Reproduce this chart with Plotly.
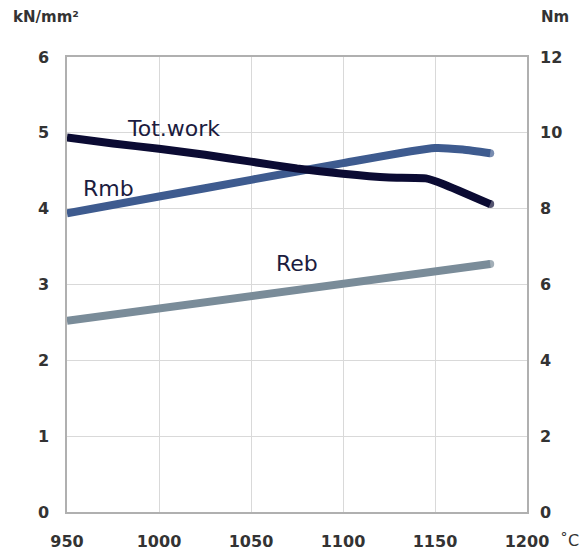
import plotly.graph_objects as go

# Data
temps_tot = [950, 975, 1000, 1025, 1050, 1075, 1100, 1125, 1145, 1155, 1180]
tot_work = [9.88, 9.72, 9.58, 9.42, 9.24, 9.06, 8.92, 8.82, 8.80, 8.64, 8.12]  # Nm (right axis)

temps_rmb = [950, 1000, 1050, 1100, 1150, 1165, 1180]
rmb = [3.94, 4.16, 4.38, 4.60, 4.80, 4.78, 4.73]  # kN/mm2

temps_reb = [950, 1180]
reb = [2.52, 3.27]  # kN/mm2

x_ticks = [950, 1000, 1050, 1100, 1150, 1200]
y_left_ticks = [0, 1, 2, 3, 4, 5, 6]
y_right_ticks = [0, 2, 4, 6, 8, 10, 12]

C_TOT = "#0b0b33"
C_RMB = "#3e5b8f"
C_REB = "#7a8c99"
TXT = "#1c1c40"
TICK = "#333333"
FONT = "DejaVu Sans"


def end_marker(xs):
    return [0] * (len(xs) - 1) + [8]


fig = go.Figure()
fig.add_trace(go.Scatter(x=temps_reb, y=reb, mode="lines+markers",
                         line=dict(color=C_REB, width=8),
                         marker=dict(size=end_marker(temps_reb), color=C_REB, line=dict(width=0)),
                         hoverinfo="skip"))
fig.add_trace(go.Scatter(x=temps_rmb, y=rmb, mode="lines+markers",
                         line=dict(color=C_RMB, width=8, shape="spline", smoothing=0.6),
                         marker=dict(size=end_marker(temps_rmb), color=C_RMB, line=dict(width=0)),
                         hoverinfo="skip"))
fig.add_trace(go.Scatter(x=temps_tot, y=tot_work, mode="lines+markers", yaxis="y2",
                         line=dict(color=C_TOT, width=8, shape="spline", smoothing=0.4),
                         marker=dict(size=end_marker(temps_tot), color=C_TOT, line=dict(width=0)),
                         hoverinfo="skip"))

tickfont = dict(size=16, weight="bold", color=TICK, family=FONT)

fig.update_layout(
    width=587, height=554,
    margin=dict(l=67, r=60, t=57, b=42),
    paper_bgcolor="white", plot_bgcolor="white",
    showlegend=False,
    font=dict(family=FONT, color=TICK),
    xaxis=dict(range=[950, 1200], tickvals=x_ticks, ticktext=[str(v) for v in x_ticks],
               showgrid=True, gridcolor="#d9d9d9", gridwidth=1,
               showline=True, linecolor="#b0b0b0", linewidth=1.5, mirror=True,
               ticks="", ticklabelstandoff=14, zeroline=False, tickfont=tickfont,
               automargin=False),
    yaxis=dict(range=[0, 6], tickvals=y_left_ticks,
               showgrid=True, gridcolor="#d9d9d9", gridwidth=1,
               showline=True, linecolor="#b0b0b0", linewidth=1.5, mirror=True,
               ticks="", ticklabelstandoff=13, zeroline=False, tickfont=tickfont,
               automargin=False),
    yaxis2=dict(range=[0, 12], tickvals=y_right_ticks, overlaying="y", side="right",
                showgrid=False, zeroline=False, showline=False, ticks="",
                ticklabelstandoff=12, tickfont=tickfont, automargin=False),
    annotations=[
        dict(text="Tot.work", x=1008, y=5.06, xref="x", yref="y", showarrow=False,
             font=dict(size=22, color=TXT, family=FONT)),
        dict(text="Rmb", x=972.8, y=4.27, xref="x", yref="y", showarrow=False,
             font=dict(size=22, color=TXT, family=FONT)),
        dict(text="Reb", x=1075, y=3.28, xref="x", yref="y", showarrow=False,
             font=dict(size=22, color=TXT, family=FONT)),
        dict(text="kN/mm²", x=-0.122, y=1.088, xref="paper", yref="paper", xanchor="left",
             yanchor="middle", showarrow=False,
             font=dict(size=15, weight="bold", color=TICK, family=FONT)),
        dict(text="Nm", x=1.026, y=1.088, xref="paper", yref="paper", xanchor="left",
             yanchor="middle", showarrow=False,
             font=dict(size=15, weight="bold", color=TICK, family=FONT)),
        dict(text="˚C", x=1.068, y=-0.062, xref="paper", yref="paper", xanchor="left",
             yanchor="middle", showarrow=False,
             font=dict(size=16, color=TICK, family=FONT)),
    ],
)

fig.write_html("out.html", config={"displayModeBar": False},
               post_script="document.body.style.margin='0';document.body.style.overflow='hidden';")
